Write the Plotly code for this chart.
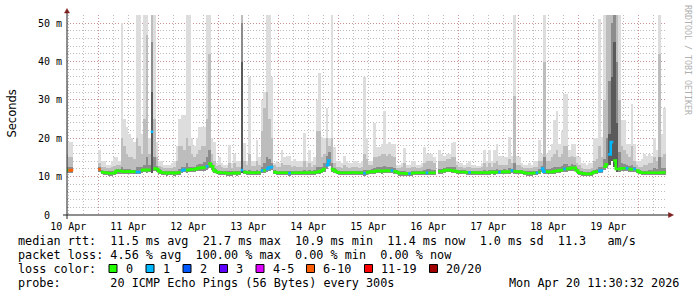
import plotly.graph_objects as go
import pandas as pd

N = None
# ---------------- data: hourly values, first hour starts 2026-04-10 11:00 ----------------
first_hour = "2026-04-10 11:00"
range_start = "2026-04-10 11:30:32"
range_end = "2026-04-20 11:30:32"

# median rtt (ms)
med = [11.7, 11.6, 11.7, N, N, N, N, N, N, N,
       N, N, N, 11.9, 11.2, 11.1, 11.0, 10.9, 10.9, 11.0,
       11.5, 11.5, 11.4, 11.3, 11.3, 11.4, 11.3, 11.3, 11.2, 11.2,
       11.7, 11.8, 11.7, 11.8, 21.7, 12.1, 12.0, 11.4, 11.1, 11.0,
       10.9, 11.0, 11.0, 10.9, 11.0, 11.1, 11.6, 11.8, 11.7, 11.8,
       11.9, 11.9, 12.1, 12.3, 12.3, 12.4, 12.7, 13.4, 12.7, 11.6,
       11.2, 11.1, 11.0, 11.0, 10.9, 10.9, 10.9, 11.0, 10.9, 11.0,
       11.7, 11.2, 11.1, 11.1, 11.0, 11.0, 11.1, 11.1, 11.6, 11.6,
       12.0, 12.4, 12.5, 11.2, 11.0, 11.0, 11.0, 11.0, 11.0, 10.9,
       11.0, 11.0, 11.0, 11.0, 11.0, 11.0, 11.1, 11.1, 11.1, 11.1,
       11.2, 11.3, 11.6, 12.0, 13.0, 14.2, 12.0, 11.6, 11.2, 11.0,
       11.0, 11.0, 11.0, 11.0, 11.1, 11.1, 11.0, 11.0, 11.0, 10.9,
       11.1, 11.2, 11.3, 11.3, 11.5, 11.5, 11.4, 11.5, 11.6, 11.5,
       11.6, 11.4, 11.2, 10.9, 10.9, 10.9, 10.8, 10.8, 10.9, 11.0,
       11.0, 11.0, 11.0, 11.0, 11.0, 11.0, 11.0, 11.0, N, 11.4,
       11.4, 11.6, 11.7, 11.7, 11.6, 11.5, 11.3, 11.2, 11.2, 11.2,
       11.1, 11.1, 11.1, 11.1, 11.0, 11.0, 11.1, 11.1, 11.0, 11.1,
       11.2, 11.1, 11.2, 11.2, 11.2, 11.3, 11.2, 11.3, 11.6, 11.4,
       11.3, 11.3, 11.2, 11.0, 10.9, 10.9, 10.9, 11.0, 11.0, 11.2,
       12.1, 11.3, 11.3, 11.2, 11.2, 11.4, 11.5, 11.6, 11.7, 12.0,
       12.0, 12.1, 12.3, 12.3, 11.6, 11.0, 10.9, 10.8, 10.7, 10.7,
       10.9, 11.2, 11.3, 11.5, 11.6, 12.6, 13.2, 15.8, 19.0, 14.2,
       12.0, 12.0, 12.2, 12.2, 12.2, 12.0, 11.9, 12.0, 11.6, 11.2,
       11.0, 11.0, 11.0, 11.0, 11.0, 11.0, 11.0, 11.0, 11.1, 11.1]

# loss class index per hour (0 = "0", 1 = "1", ... 5 = "6-10")
loss = [0, 5, 5, 0, 0, 0, 0, 0, 0, 0,
        0, 0, 0, 5, 0, 0, 0, 0, 0, 0,
        0, 0, 0, 0, 0, 0, 0, 0, 1, 1,
        0, 0, 0, 0, 1, 0, 0, 0, 0, 0,
        0, 0, 0, 0, 0, 0, 1, 1, 0, 0,
        0, 0, 0, 0, 0, 0, 1, 0, 0, 0,
        0, 0, 0, 0, 0, 0, 0, 0, 0, 0,
        1, 0, 0, 0, 0, 0, 0, 0, 1, 0,
        1, 1, 1, 0, 0, 0, 0, 0, 0, 1,
        0, 0, 0, 0, 0, 0, 0, 0, 0, 0,
        0, 0, 0, 0, 1, 1, 0, 0, 0, 0,
        0, 0, 0, 0, 0, 0, 0, 0, 0, 1,
        0, 0, 0, 0, 0, 0, 0, 0, 0, 0,
        1, 0, 0, 0, 0, 0, 0, 1, 0, 0,
        0, 0, 0, 0, 1, 0, 0, 0, 0, 0,
        0, 0, 0, 0, 0, 0, 0, 0, 0, 0,
        0, 1, 0, 0, 0, 0, 0, 0, 0, 0,
        0, 0, 0, 1, 0, 0, 0, 0, 1, 0,
        0, 0, 0, 0, 0, 0, 0, 0, 1, 0,
        1, 1, 0, 0, 0, 0, 0, 0, 0, 1,
        0, 0, 0, 0, 0, 0, 0, 0, 0, 0,
        0, 0, 0, 1, 1, 0, 0, 1, 1, 0,
        0, 0, 0, 0, 1, 0, 0, 1, 0, 0,
        0, 0, 0, 0, 0, 0, 0, 0, 0, 0]

# smoke: lowest ping
lo = [11.0, 11.0, 11.0, N, N, N, N, N, N, N,
      N, N, N, 11.2, 10.6, 10.5, 10.4, 10.3, 10.3, 10.4,
      10.8, 10.8, 10.7, 10.7, 10.7, 10.8, 10.7, 10.7, 10.6, 10.6,
      11.0, 11.1, 11.0, 11.1, 11.0, 11.4, 11.3, 10.8, 10.5, 10.4,
      10.3, 10.4, 10.4, 10.3, 10.4, 10.5, 11.0, 11.1, 11.0, 11.1,
      11.2, 11.2, 11.4, 11.5, 11.5, 11.6, 11.8, 12.2, 11.8, 10.9,
      10.6, 10.5, 10.4, 10.4, 10.3, 10.3, 10.3, 10.4, 10.3, 10.4,
      10.9, 10.6, 10.5, 10.5, 10.4, 10.4, 10.5, 10.5, 10.9, 10.9,
      11.3, 11.6, 11.7, 10.6, 10.4, 10.4, 10.4, 10.4, 10.4, 10.3,
      10.4, 10.4, 10.4, 10.4, 10.4, 10.4, 10.5, 10.5, 10.5, 10.5,
      10.6, 10.7, 10.9, 11.2, 12.0, 12.8, 11.2, 10.9, 10.6, 10.4,
      10.4, 10.4, 10.4, 10.4, 10.5, 10.5, 10.4, 10.4, 10.4, 10.3,
      10.5, 10.6, 10.7, 10.7, 10.9, 10.9, 10.8, 10.9, 11.0, 10.9,
      11.0, 10.8, 10.6, 10.3, 10.3, 10.3, 10.2, 10.2, 10.3, 10.4,
      10.4, 10.4, 10.4, 10.4, 10.4, 10.4, 10.4, 10.4, N, 10.8,
      10.8, 11.0, 11.1, 11.1, 11.0, 10.9, 10.7, 10.6, 10.6, 10.6,
      10.5, 10.5, 10.5, 10.5, 10.4, 10.4, 10.5, 10.5, 10.4, 10.5,
      10.6, 10.5, 10.6, 10.6, 10.6, 10.7, 10.6, 10.7, 11.0, 10.8,
      10.7, 10.7, 10.6, 10.4, 10.3, 10.3, 10.3, 10.4, 10.4, 10.6,
      11.3, 10.7, 10.7, 10.6, 10.6, 10.8, 10.9, 11.0, 11.1, 11.3,
      11.3, 11.4, 11.6, 11.6, 11.0, 10.4, 10.3, 10.2, 10.1, 10.1,
      10.3, 10.6, 10.7, 10.9, 11.0, 11.8, 12.2, 13.0, 14.0, 12.5,
      11.2, 11.3, 11.5, 11.5, 11.5, 11.3, 11.2, 11.3, 11.0, 10.6,
      10.4, 10.4, 10.4, 10.4, 10.4, 10.4, 10.4, 10.4, 10.5, 10.5]

# smoke: dense core band top (only where most pings were high)
core = [N] * 10 + [N] * 10 + [N] * 10 + \
       [N, N, N, N, 32, N, N, N, N, N] + [N] * 10 + [N] * 10 + [N] * 10 + \
       [40, N, N, N, N, N, N, N, N, N] + [N] * 10 + [N] * 10 + [N] * 10 + \
       [N] * 10 + [N] * 10 + [N] * 10 + [N] * 10 + [N] * 10 + [N] * 10 + \
       [N] * 10 + [N] * 10 + [N] * 10 + [N] * 10 + \
       [N, N, N, N, N, N, N, 21, 36, 45] + \
       [24, N, N, N, N, N, N, N, N, N] + [N] * 10

# smoke: inner (dark) band top
mid = [12.6, 12.4, 12.4, N, N, N, N, N, N, N,
       N, N, N, 12.4, 11.7, 11.6, 11.5, 11.4, 11.4, 11.5,
       11.9, 11.9, 12.5, 12.0, 11.9, 11.9, 11.8, 11.8, 12.5, 12.5,
       12.4, 13.0, 15.0, 13.0, 45, 15.0, 12.7, 11.9, 11.6, 11.5,
       11.4, 11.5, 11.5, 11.4, 11.6, 12.0, 12.5, 12.5, 13.5, 12.6,
       12.6, 12.6, 13.0, 13.3, 13.4, 13.8, 15.0, 17.0, 13.6, 12.2,
       11.7, 11.6, 11.5, 11.5, 11.4, 11.5, 11.4, 11.6, 11.4, 11.5,
       50, 11.8, 11.6, 11.8, 11.5, 11.5, 11.7, 11.6, 12.5, 13.5,
       15, 14.5, 13.5, 11.7, 11.5, 11.5, 11.6, 11.5, 11.5, 11.5,
       11.5, 11.5, 11.5, 11.5, 11.5, 11.7, 11.6, 11.7, 11.6, 11.7,
       12.5, 12.5, 12.6, 13.5, 15.5, 16.5, 13.5, 12.2, 11.7, 11.5,
       11.5, 11.6, 11.5, 11.5, 11.6, 11.6, 11.5, 11.5, 11.5, 11.8,
       11.8, 11.8, 12.0, 12.2, 12.5, 12.6, 12.6, 12.8, 12.6, 12.6,
       12.6, 12.2, 11.7, 11.4, 11.4, 11.6, 11.3, 11.3, 11.4, 11.5,
       11.5, 11.5, 11.5, 11.8, 11.9, 11.9, 11.8, 11.8, N, 12.0,
       12.0, 12.2, 12.4, 12.4, 12.6, 12.6, 11.8, 11.7, 11.7, 11.7,
       11.6, 11.6, 11.6, 11.6, 11.5, 11.5, 11.6, 11.8, 11.5, 11.8,
       11.7, 11.8, 12.0, 11.8, 11.8, 11.9, 11.8, 12.2, 12.1, 13.5,
       11.8, 11.8, 11.7, 11.5, 11.4, 11.4, 11.4, 11.5, 11.6, 12.0,
       12.8, 15, 12.0, 12.0, 12.2, 12.6, 12.6, 12.5, 12.7, 13.2,
       13.2, 12.8, 13.2, 13.0, 12.2, 11.6, 11.4, 11.3, 11.2, 11.2,
       11.4, 11.8, 12.0, 12.6, 12.5, 14.5, 20, 35, 50, 55,
       40, 16.5, 13.6, 13.2, 13.0, 12.8, 13.0, 12.5, 12.1, 11.7,
       11.5, 11.6, 11.6, 11.8, 11.8, 12.2, 12.0, 15, 12.2, 12.2]

# smoke: middle (medium grey) band top
hi = [16, 15, 15, N, N, N, N, N, N, N,
      N, N, N, 13.5, 12.5, 12.5, 12.2, 12.2, 12.5, 12.8,
      13, 13, 20, 18, 16, 15, 15, 14.5, 20, 18,
      16, 25, 47, 16, 55, 25, 15, 12.8, 12.5, 12.2,
      12.2, 12.3, 12.3, 12.5, 14, 18, 18, 17, 20, 18,
      16, 15, 16, 17, 18, 18, 25, 42, 16, 14,
      12.8, 13, 12.5, 12.3, 12.3, 13.5, 12.3, 13.5, 12.5, 12.5,
      55, 14, 13, 16, 12.8, 12.8, 14, 13, 22, 28,
      32, 25, 20, 13, 12.5, 12.5, 13.5, 13, 13, 13,
      12.5, 12.8, 12.5, 12.5, 12.5, 14, 12.5, 13.5, 12.5, 13,
      22, 22, 15, 16, 20, 18, 20, 13.5, 12.5, 12.5,
      12.3, 13, 12.5, 12.3, 12.5, 12.5, 12.5, 12.3, 12.5, 16,
      14.5, 13, 13, 15, 15, 15.5, 16, 16, 15.5, 16,
      15.5, 15, 12.3, 12.2, 12.5, 13.5, 12.2, 12.2, 12.5, 12.5,
      12.3, 12.3, 12.5, 13.5, 14, 14, 14, 13.5, N, 14,
      14, 14, 14.5, 14.5, 15, 15, 13, 12.5, 12.5, 12.3,
      12.5, 12.5, 12.3, 12.3, 12.2, 12.2, 12.5, 13.5, 12.5, 13.5,
      12.5, 13.5, 14, 13, 13, 13, 13, 14.5, 13.5, 31,
      13, 13, 12.5, 12.3, 12.2, 12.2, 12.2, 12.5, 12.5, 14,
      14, 40, 14, 14, 15, 16, 17, 15, 16, 18,
      18, 15, 15.5, 15, 13.5, 13, 12.2, 12, 12, 12,
      12.2, 14, 14.5, 18, 15, 30, 55, 55, 55, 55,
      55, 30, 18, 17, 16, 15, 18, 14, 13, 12.5,
      12.5, 13, 13, 13.5, 13.5, 15, 14, 42, 15, 16]

# smoke: outer (light grey) band top = highest ping
mx = [35, 19, 19, N, N, N, N, N, N, N,
      N, N, N, 17, 14, 14, 13, 13, 14, 15,
      15, 14, 50, 25, 23, 21, 20, 19, 55, 55,
      21, 55, 55, 20, 55, 55, 19, 14, 14, 13,
      13, 13, 13.5, 14, 18, 25, 26, 26, 55, 55,
      20, 18, 20, 23, 23, 23, 55, 55, 20, 19,
      13.5, 15, 13.5, 13, 13, 18.3, 13.5, 16, 14, 14,
      55, 18.7, 14, 36, 14, 14, 19.6, 15, 30, 32,
      55, 55, 36, 13.5, 14, 13.5, 16.9, 15, 15.3, 15.5,
      14, 14.5, 14, 14, 14, 21.3, 14, 16.9, 14, 15,
      30, 37, 20.4, 20, 28, 20, 55, 17.8, 14, 14,
      13.5, 15.3, 14, 13.5, 13.5, 14, 14, 13.5, 14, 36,
      20, 14, 14, 24, 17.8, 17.8, 18.5, 27, 18.5, 19,
      18.5, 18.5, 13, 13, 13.5, 17.4, 13, 13, 14, 14,
      13, 13, 13.5, 17.8, 16, 16, 16, 15, N, 17,
      16, 15.3, 16, 16, 18.7, 19.1, 14, 13.5, 13.5, 13,
      13.5, 14, 13, 13, 12.8, 12.8, 13.5, 17, 14, 16.9,
      14, 17, 18.5, 15.3, 15.3, 15, 15, 20.4, 15.3, 55,
      15.3, 15, 13.5, 13, 13, 13.5, 13, 14, 14, 19.6,
      16, 55, 16, 17, 18.5, 24.8, 27, 18.5, 22, 31.6,
      31.6, 17, 18.5, 18.5, 15.3, 15, 13.5, 13.5, 13, 13.5,
      13.5, 20, 20, 51, 20.4, 55, 55, 55, 55, 55,
      55, 55, 24.8, 24.8, 18.5, 18.5, 29, 18.5, 14, 14,
      14.5, 16, 15.5, 16, 15.5, 20, 17, 55, 21, 28]

loss_labels = ["0", "1", "2", "3", "4-5", "6-10", "11-19", "20/20"]
loss_colors = ["#26ff00", "#00b8ff", "#0059ff", "#5e00ff", "#dd00ff", "#ff5e00", "#ff0000", "#a10000"]
smoke_colors = ["#dddddd", "#bdbdbd", "#8c8c8c", "#5a5a5a"]

day_labels = ["10 Apr", "11 Apr", "12 Apr", "13 Apr", "14 Apr",
              "15 Apr", "16 Apr", "17 Apr", "18 Apr", "19 Apr"]
y_tickvals = [0, 10, 20, 30, 40, 50]
y_ticktext = ["0\u00a0\u00a0", "10 m", "20 m", "30 m", "40 m", "50 m"]
y_max = 52.15

stat_lines = [
    "median rtt:  11.5 ms avg  21.7 ms max  10.9 ms min  11.4 ms now  1.0 ms sd  11.3   am/s",
    "packet loss: 4.56 % avg  100.00 % max  0.00 % min  0.00 % now",
    "loss color:",
    "probe:       20 ICMP Echo Pings (56 Bytes) every 300s",
]
stamp = "Mon Apr 20 11:30:32 2026"
watermark = "RRDTOOL / TOBI OETIKER"

# ---------------- build figure ----------------
hours = pd.date_range(first_hour, periods=len(med), freq="h")
centers = hours + pd.Timedelta(minutes=30)
HOUR_MS = 3600 * 1000

fig = go.Figure()
for top, col in zip([mx, hi, mid, core], smoke_colors):
    h = [(t - b) if (t is not None and b is not None) else None for t, b in zip(top, lo)]
    fig.add_trace(go.Bar(x=centers, y=h, base=lo, width=HOUR_MS * 1.02,
                         marker=dict(color=col, line=dict(width=0)),
                         hoverinfo="skip", showlegend=False))

# median line, coloured by loss class (step line)
for c, col in enumerate(loss_colors):
    xs, ys = [], []
    prev = False
    for i, m in enumerate(med):
        inrun = (m is not None and loss[i] == c)
        if inrun:
            if not prev and xs:
                xs.append(None); ys.append(None)
            xs.append(hours[i]); ys.append(m)
            nxt = i + 1 < len(med) and med[i + 1] is not None and loss[i + 1] == c
            if not nxt:
                xs.append(hours[i] + pd.Timedelta(hours=1)); ys.append(m)
        prev = inrun
    if xs:
        fig.add_trace(go.Scatter(x=xs, y=ys, mode="lines", xaxis="x2",
                                 line=dict(color=col, width=2.6, shape="hv"),
                                 connectgaps=False, hoverinfo="skip", showlegend=False))

midnights = pd.date_range("2026-04-11", "2026-04-20", freq="D")
noons = pd.date_range("2026-04-10 12:00", "2026-04-19 12:00", freq="D")

GRID = "rgba(143,143,143,0.6)"
MGRID = "rgba(222,79,79,0.4)"
DASH = "1px,2px"
MONO = "DejaVu Sans Mono"
FS = 11.8

fig.update_layout(
    width=697, height=297,
    margin=dict(l=67, r=30, t=15, b=82),
    paper_bgcolor="white", plot_bgcolor="white",
    barmode="overlay", bargap=0, showlegend=False,
    font=dict(family=MONO, size=10, color="black"),
    xaxis=dict(type="date", range=[range_start, range_end],
               tickmode="array", tickvals=list(midnights), showticklabels=False,
               showgrid=True, gridcolor=MGRID, griddash=DASH, gridwidth=1,
               zeroline=False, showline=False, ticks="",
               minor=dict(tickmode="linear", tick0="2026-04-10", dtick=6 * HOUR_MS,
                          showgrid=True, gridcolor=GRID, griddash=DASH, gridwidth=1, ticks="")),
    xaxis2=dict(type="date", range=[range_start, range_end], overlaying="x", anchor="y",
                side="bottom", tickmode="array", tickvals=list(noons), ticktext=day_labels,
                showgrid=False, zeroline=False, showline=False, ticks="", ticklabelstandoff=4,
                tickfont=dict(family=MONO, size=10, color="black")),
    yaxis=dict(range=[0, y_max], tickmode="array", tickvals=y_tickvals, ticktext=y_ticktext,
               showgrid=True, gridcolor=MGRID, griddash=DASH, gridwidth=1,
               zeroline=False, showline=False, ticks="", ticklabelstandoff=4,
               tickfont=dict(family=MONO, size=10, color="black"),
               minor=dict(tickmode="linear", tick0=0, dtick=2, showgrid=True,
                          gridcolor=GRID, griddash=DASH, gridwidth=1, ticks="")),
)

PL, PR, PT, PB = 67, 667, 15, 215


def px(x):
    return (x - PL) / (PR - PL)


def py(y):
    return (PB - y) / (PB - PT)


AXIS = "#1f1f1f"
ARROW = "#7f1f1f"
shapes = [
    dict(type="line", xref="paper", yref="paper", x0=px(63), x1=px(669), y0=0, y1=0,
         line=dict(color=AXIS, width=1)),
    dict(type="line", xref="paper", yref="paper", x0=0, x1=0, y0=py(219), y1=py(12),
         line=dict(color=AXIS, width=1)),
    dict(type="path", xref="paper", yref="paper",
         path=f"M {px(673.5)},{py(215)} L {px(668.5)},{py(212.5)} L {px(668.5)},{py(217.5)} Z",
         fillcolor=ARROW, line=dict(color=ARROW, width=0.5)),
    dict(type="path", xref="paper", yref="paper",
         path=f"M {px(67)},{py(8.5)} L {px(64.5)},{py(13)} L {px(69.5)},{py(13)} Z",
         fillcolor=ARROW, line=dict(color=ARROW, width=0.5)),
]

NB = "\u00a0"
anns = []
line_y = [241, 255, 269, 283]
for s, yy in zip(stat_lines, line_y):
    anns.append(dict(text=s.replace(" ", NB), xref="paper", yref="paper", x=px(16), y=py(yy),
                     xanchor="left", yanchor="middle", showarrow=False,
                     font=dict(family=MONO, size=FS, color="black")))
anns.append(dict(text=stamp.replace(" ", NB), xref="paper", yref="paper", x=px(681), y=py(283),
                 xanchor="right", yanchor="middle", showarrow=False,
                 font=dict(family=MONO, size=FS, color="black")))

box_x = [109, 146, 183, 219.5, 256, 306.5, 364.5, 429.5]
for bx, lab, col in zip(box_x, loss_labels, loss_colors):
    shapes.append(dict(type="rect", xref="paper", yref="paper",
                       x0=px(bx), x1=px(bx + 8), y0=py(272.5), y1=py(264.5),
                       fillcolor=col, line=dict(color="black", width=1)))
    anns.append(dict(text=lab, xref="paper", yref="paper", x=px(bx + 14.7), y=py(269),
                     xanchor="left", yanchor="middle", showarrow=False,
                     font=dict(family=MONO, size=FS, color="black")))

anns.append(dict(text="Seconds", xref="paper", yref="paper", x=px(11), y=py(113.5),
                 textangle=-90, xanchor="center", yanchor="middle", showarrow=False,
                 font=dict(family="DejaVu Sans", size=11.5, color="black")))
anns.append(dict(text=watermark, xref="paper", yref="paper", x=px(688), y=py(60),
                 textangle=90, xanchor="center", yanchor="middle", showarrow=False,
                 font=dict(family=MONO, size=8.3, color="#b0b0b0")))

fig.update_layout(shapes=shapes, annotations=anns)
fig.write_html("out.html")
